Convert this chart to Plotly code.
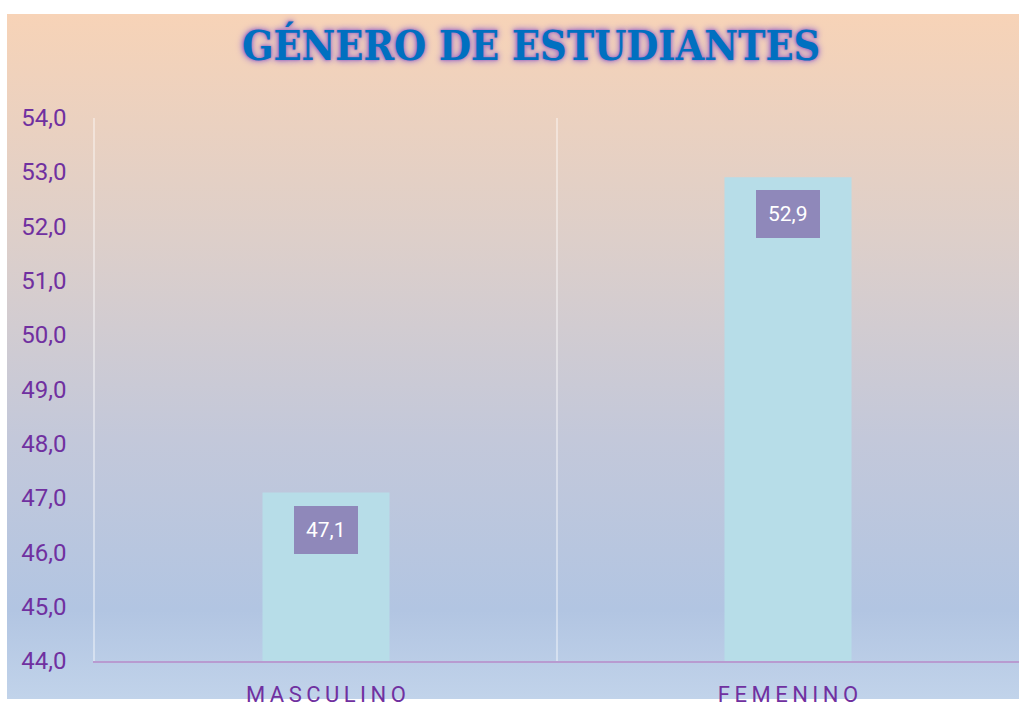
import base64
import plotly.graph_objects as go

# ---- data ----
categories = ["MASCULINO", "FEMENINO"]
values = [47.1, 52.9]
title_text = "GÉNERO DE ESTUDIANTES"
y_range = [44, 54]

W, H = 1019, 713
# the photographed page shows up vertically squeezed (~0.96) and centred,
# so place items by where they should appear in the final picture
VOFF, VSPAN = 14.5, 684.5


def py(ref_y):
    """paper y for a pixel row of the 1019x713 reference picture"""
    return 1 - (ref_y - VOFF) / VSPAN


def spaced(s):
    return "\u2009".join(list(s))


def fmt(v):
    return f"{v:.1f}".replace(".", ",")


# ---- gradient background as SVG image ----
bw, bh = 1012, 713
svg = f'''<svg xmlns="http://www.w3.org/2000/svg" width="{bw}" height="{bh}" viewBox="0 0 {bw} {bh}" preserveAspectRatio="none">
<defs><linearGradient id="g" x1="0" y1="0" x2="0" y2="1">
<stop offset="0" stop-color="#f7d3b7"/>
<stop offset="0.33" stop-color="#ddcfca"/>
<stop offset="0.62" stop-color="#c3c8da"/>
<stop offset="0.87" stop-color="#b2c5e2"/>
<stop offset="1" stop-color="#c1d3ea"/>
</linearGradient></defs>
<rect x="0" y="0" width="{bw}" height="{bh}" fill="url(#g)"/></svg>'''
src = "data:image/svg+xml;base64," + base64.b64encode(svg.encode()).decode()

fig = go.Figure()
fig.add_trace(go.Bar(
    x=categories, y=values,
    marker=dict(color="#b7dde8", line=dict(width=0)),
    hoverinfo="skip",
))

for c, v in zip(categories, values):
    fig.add_annotation(
        x=c, y=v, xref="x", yref="y",
        text=fmt(v), showarrow=False,
        xanchor="center", yanchor="top", yshift=-13,
        bgcolor="#8f88ba", borderpad=12, borderwidth=0,
        font=dict(family="Roboto", size=21, color="white"),
    )

fig.add_annotation(
    x=531 / W, y=py(46), xref="paper", yref="paper",
    text=f"<b>{title_text}</b>", showarrow=False,
    xanchor="center", yanchor="middle",
    font=dict(family="DejaVu Serif Condensed, DejaVu Serif", size=41, color="#0070c0",
              shadow="0 0 1px #a878c0, 0 0 2px #a878c0, 0 0 4px #a878c0, 0 0 6px #b089c6, 0 0 9px #c29cca"),
)

fig.add_layout_image(dict(
    source=src, xref="paper", yref="paper",
    x=7 / W, y=1, sizex=1 - 7 / W, sizey=1,
    xanchor="left", yanchor="top", sizing="stretch", layer="below",
))

fig.update_layout(
    width=W, height=H, autosize=False,
    margin=dict(l=0, r=0, t=0, b=0),
    paper_bgcolor="white", plot_bgcolor="rgba(0,0,0,0)",
    separators=",.",
    bargap=0.725,
    showlegend=False,
    xaxis=dict(
        domain=[95 / W, 1],
        tickmode="array", tickvals=categories,
        ticktext=[spaced(c) for c in categories],
        tickson="boundaries", ticks="",
        showgrid=True, gridcolor="rgba(255,255,255,0.4)", gridwidth=1.5,
        showline=True, linecolor="#b89bd0", linewidth=2,
        tickfont=dict(family="Roboto", size=22, color="#7030a0"),
        ticklabelstandoff=13,
        fixedrange=True,
    ),
    yaxis=dict(
        domain=[py(661), py(118)],
        range=y_range, dtick=1, tickformat=".1f",
        showgrid=False, zeroline=False,
        showline=True, linecolor="rgba(255,255,255,0.4)", linewidth=1.5,
        ticks="",
        tickfont=dict(family="Roboto", size=24, color="#7030a0"),
        ticklabelstandoff=22,
        fixedrange=True,
    ),
)

page_js = (
    "document.documentElement.style.margin='0';"
    "document.body.style.margin='0';"
)

fig.write_html("out.html", post_script=page_js, config={"displayModeBar": False})
